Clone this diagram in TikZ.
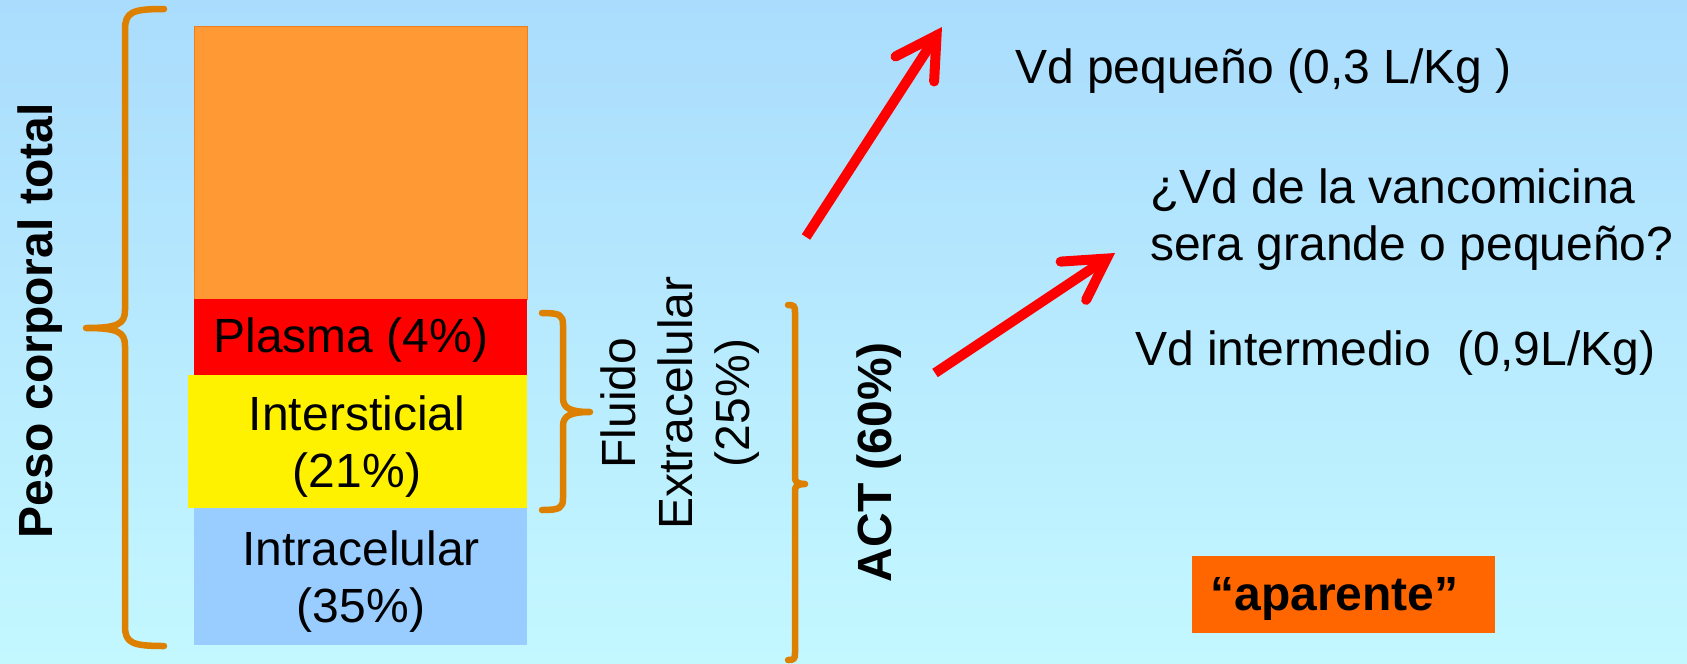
\documentclass[tikz,border=0pt]{standalone}
\usepackage{fontspec}
\setmainfont{Liberation Sans}
\usetikzlibrary{arrows.meta}
\definecolor{bgtop}{RGB}{170,220,253}
\definecolor{bgbot}{RGB}{196,248,255}
\definecolor{bracecol}{RGB}{221,128,0}
\definecolor{orangebox}{RGB}{255,153,51}
\definecolor{orangeedge}{RGB}{240,125,30}
\definecolor{bluebox}{RGB}{153,204,255}
\definecolor{appbox}{RGB}{255,102,0}
\begin{document}
\begin{tikzpicture}[x=1pt,y=1pt,
  txt/.style={font=\fontsize{48}{57}\selectfont, inner sep=0pt, text=black},
  btxt/.style={font=\fontsize{48}{57}\selectfont\bfseries, inner sep=0pt, text=black},
  blockbox/.style={rectangle, inner sep=0pt, anchor=north west},
  bracepath/.style={draw=bracecol, line width=6.5pt, line cap=round, line join=round},
  redarrow/.style={draw=red, line width=10pt, -{Straight Barb[length=40pt,width=46pt,line cap=round]}}]
\shade[top color=bgtop,bottom color=bgbot] (0,0) rectangle (1687,-664);
\useasboundingbox (0,0) rectangle (1687,-664);

% stacked blocks
\node[blockbox, fill=orangebox, draw=orangeedge, line width=1pt, minimum width=333pt, minimum height=273pt] (total) at (194,-26) {};
\node[blockbox, fill=red, minimum width=333pt, minimum height=76pt] (plasmabox) at (194,-299) {};
\node[blockbox, fill=yellow, minimum width=339pt, minimum height=133pt] (interbox) at (188,-375) {};
\node[blockbox, fill=bluebox, minimum width=333pt, minimum height=137pt] (intrabox) at (194,-508) {};

\node[txt, anchor=base] (plasmatxt) at (351,-352) {Plasma (4\%)};
\node[txt, align=center] (intertxt) at (357,-447) {Intersticial\\(21\%)};
\node[txt, align=center] (intratxt) at (361,-582) {Intracelular\\(35\%)};

% braces
\draw[bracepath] (164,-9) .. controls (132,-9) and (125,-12) .. (125,-30) -- (125,-310)
  .. controls (125,-324) and (118,-328) .. (86,-328)
  .. controls (118,-328) and (125,-332) .. (125,-346) -- (125,-626)
  .. controls (125,-643) and (132,-646) .. (164,-646);
\draw[bracepath] (542,-313) .. controls (560,-313) and (563,-315) .. (563,-325) -- (563,-398)
  .. controls (563,-408) and (570,-412) .. (590,-412)
  .. controls (570,-412) and (563,-416) .. (563,-426) -- (563,-498)
  .. controls (563,-508) and (560,-510) .. (542,-510);
\draw[bracepath] (788,-305) .. controls (794,-305) and (795,-306) .. (795,-312) -- (795,-478)
  .. controls (795,-482) and (798,-484) .. (805,-484)
  .. controls (798,-484) and (795,-486) .. (795,-490) -- (795,-653)
  .. controls (795,-659) and (794,-660) .. (788,-660);

% rotated labels
\node[btxt, rotate=90, anchor=base] (peso) at (52,-321) {Peso corporal total};
\node[txt, rotate=90, align=center] (fluido) at (680,-403) {Fluido\\Extracelular\\(25\%)};
\node[btxt, rotate=90, anchor=base] (act) at (891,-462) {ACT (60\%)};

% arrows
\coordinate (a1s) at (806,-237);
\coordinate (a1e) at (942,-27);
\coordinate (a2s) at (935,-373);
\coordinate (a2e) at (1115,-253);
\draw[redarrow] (a1s) -- (a1e);
\draw[redarrow] (a2s) -- (a2e);

% right texts
\node[txt, anchor=base west] (vdsmall) at (1015,-83) {Vd pequeño (0,3 L/Kg )};
\node[txt, align=left, anchor=west] (question) at (1150,-219.5) {¿Vd de la vancomicina\\sera grande o pequeño?};
\node[txt, anchor=base west] (vdmid) at (1135,-365) {Vd intermedio\ \ (0,9L/Kg)};

\node[rectangle, fill=appbox, minimum width=303pt, minimum height=77pt, inner sep=0pt] (appbg) at (1343.5,-594.5) {};
\node[btxt, anchor=base] (apptxt) at (1334.5,-610) {“aparente”};
\end{tikzpicture}
\end{document}
